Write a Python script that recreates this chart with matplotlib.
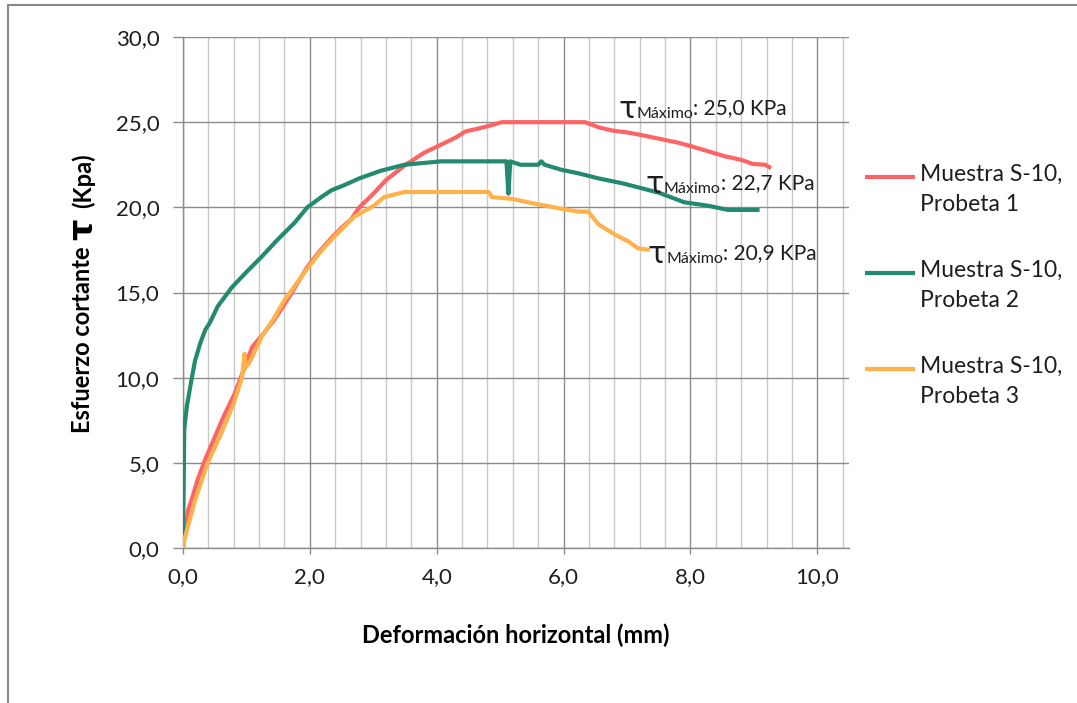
import matplotlib
matplotlib.use("Agg")
import matplotlib.pyplot as plt
from matplotlib.patches import Rectangle
from matplotlib.ticker import FuncFormatter, MultipleLocator
from matplotlib.legend_handler import HandlerLine2D

# Ensayo de corte directo, muestra S-10
x_probeta1 = [0, 0.03, 0.08, 0.15, 0.23, 0.35, 0.5, 0.65, 0.82, 0.95, 1.09, 1.25, 1.44,
              1.65, 1.96, 2.15, 2.34, 2.5, 2.65, 2.78, 3.0, 3.2, 3.51, 3.8, 4.08, 4.3,
              4.45, 4.74, 5.03, 5.5, 6.0, 6.34, 6.55, 6.78, 7.0, 7.22, 7.54, 7.8, 8.0,
              8.27, 8.54, 8.79, 8.98, 9.18, 9.27]
y_probeta1 = [0, 0.8, 2.2, 3.0, 4.0, 5.2, 6.5, 7.8, 9.1, 10.4, 11.8, 12.5, 13.4,
              14.6, 16.5, 17.4, 18.2, 18.8, 19.3, 20.0, 20.8, 21.6, 22.5, 23.2, 23.7, 24.1,
              24.45, 24.7, 25.0, 25.0, 25.0, 25.0, 24.7, 24.5, 24.4, 24.25, 24.0, 23.8, 23.6,
              23.3, 23.0, 22.8, 22.55, 22.5, 22.3]

x_probeta2 = [0, 0.02, 0.06, 0.12, 0.19, 0.27, 0.35, 0.42, 0.55, 0.77, 1.0, 1.24, 1.49,
              1.76, 1.96, 2.18, 2.34, 2.54, 2.78, 3.12, 3.49, 4.07, 4.6, 5.1, 5.13, 5.16,
              5.32, 5.6, 5.65, 5.7, 5.97, 6.23, 6.55, 6.94, 7.51, 7.9, 8.27, 8.59, 9.09]
y_probeta2 = [0, 7.0, 8.3, 9.6, 11.0, 12.0, 12.8, 13.2, 14.2, 15.3, 16.2, 17.1, 18.1,
              19.1, 20.0, 20.6, 21.0, 21.3, 21.7, 22.15, 22.5, 22.7, 22.7, 22.7, 20.8, 22.7,
              22.5, 22.5, 22.7, 22.5, 22.2, 22.0, 21.7, 21.4, 20.85, 20.3, 20.1, 19.85, 19.85]

x_probeta3 = [0, 0.03, 0.19, 0.39, 0.6, 0.8, 0.93, 0.97, 0.99, 1.05, 1.24, 1.42, 1.6,
              1.96, 2.17, 2.39, 2.7, 3.01, 3.17, 3.49, 4.0, 4.5, 4.82, 4.87, 5.18, 5.5,
              5.92, 6.23, 6.39, 6.55, 6.81, 7.02, 7.17, 7.36]
y_probeta3 = [0, 0.6, 2.8, 5.0, 6.7, 8.5, 10.0, 11.4, 10.6, 10.9, 12.4, 13.4, 14.55,
              16.4, 17.4, 18.3, 19.45, 20.1, 20.6, 20.9, 20.9, 20.9, 20.9, 20.6, 20.5, 20.25,
              19.95, 19.75, 19.75, 19.0, 18.4, 18.0, 17.6, 17.5]

series_labels = ["Muestra S-10,\nProbeta 1", "Muestra S-10,\nProbeta 2", "Muestra S-10,\nProbeta 3"]
series_colors = ["#FF6464", "#23896F", "#FDB24C"]
# where each "τ Máximo" label sits (x, baseline y), in data units
label_anchor = [(6.86, 25.25), (7.29, 20.85), (7.33, 16.73)]

FONT = ["Lato", "DejaVu Sans"]
plt.rcParams["font.family"] = FONT
GRID_DARK = "#8C8C8C"
GRID_LIGHT = "#C9C9C9"
TEXT = "#1E1E1E"


class FirstLineHandler(HandlerLine2D):
    """Legend line drawn level with the first row of a two-row label."""

    def __init__(self, shift, **kw):
        super().__init__(**kw)
        self.shift = shift

    def create_artists(self, legend, orig_handle, xdescent, ydescent, width, height,
                       fontsize, trans):
        return super().create_artists(legend, orig_handle, xdescent,
                                      ydescent - self.shift * fontsize, width, height,
                                      fontsize, trans)


W, H = 1077, 703
fig = plt.figure(figsize=(W / 100, H / 100), dpi=100)
ax = fig.add_axes([183 / W, 1 - 548 / H, (849 - 183) / W, (548 - 37) / H])

# chart-area border (top and left edges visible)
fig.patches.append(Rectangle((8 / W, -0.2), 1.2, 1.2 - 5 / H, transform=fig.transFigure,
                             fill=False, edgecolor="#8A8A8A", linewidth=1.5))

xs = [x_probeta1, x_probeta2, x_probeta3]
ys = [y_probeta1, y_probeta2, y_probeta3]
lines = []
for x, y, c, lab in zip(xs, ys, series_colors, series_labels):
    ln, = ax.plot(x, y, color=c, linewidth=3.0, label=lab, solid_joinstyle="round",
                  solid_capstyle="butt", zorder=3)
    lines.append(ln)

ax.set_xlim(0, 10.5)
ax.set_ylim(0, 30)
ax.xaxis.set_major_locator(MultipleLocator(2))
ax.xaxis.set_minor_locator(MultipleLocator(0.4))
ax.yaxis.set_major_locator(MultipleLocator(5))
fmt = FuncFormatter(lambda v, p: f"{v:.1f}".replace(".", ","))
ax.xaxis.set_major_formatter(fmt)
ax.yaxis.set_major_formatter(fmt)

ax.grid(True, which="major", axis="both", color=GRID_DARK, linewidth=1.0, zorder=0)
ax.grid(True, which="minor", axis="x", color=GRID_LIGHT, linewidth=1.0, zorder=0)
ax.set_axisbelow(True)

for side in ("top", "right"):
    ax.spines[side].set_visible(False)
for side in ("left", "bottom"):
    ax.spines[side].set_color(GRID_DARK)
    ax.spines[side].set_linewidth(1.0)

ax.tick_params(axis="y", which="major", direction="out", length=7, width=1.0,
               color=GRID_DARK, pad=10, labelsize=16, labelcolor=TEXT)
ax.tick_params(axis="x", which="major", direction="out", length=4, width=1.0,
               color=GRID_DARK, pad=10, labelsize=16, labelcolor=TEXT)
ax.tick_params(axis="x", which="minor", length=0)

ax.set_xlabel("Deformación horizontal (mm)", fontsize=17, fontweight="bold", va="center",
              color="#000000")
ax.xaxis.set_label_coords(0.5, -(635 - 548) / 511)

# y label: text, an enlarged tau, then the unit, stacked upward
ylab = ax.set_ylabel("Esfuerzo cortante", fontsize=17, fontweight="bold", va="center",
                     color="#000000")
ax.yaxis.set_label_coords((83 - 183) / 666, (548 - 340) / 511)
tau_y = ax.annotate("τ", xy=(0.5, 1), xycoords=ylab, xytext=(0, 7),
                    textcoords="offset pixels", rotation=90, rotation_mode="anchor",
                    ha="left", va="center", fontsize=24, fontweight="bold",
                    family=["DejaVu Sans"], color="#000000")
ax.annotate("(Kpa)", xy=(0.5, 1), xycoords=tau_y, xytext=(0, 10),
            textcoords="offset pixels", rotation=90, rotation_mode="anchor",
            ha="left", va="center", fontsize=17, fontweight="bold", color="#000000")

# peak-stress labels
for y, (lx, ly) in zip(ys, label_anchor):
    peak = max(y)
    t = ax.text(lx, ly, "τ", fontsize=22, ha="left", va="baseline", color=TEXT,
                family=["DejaVu Sans"])
    s = ax.annotate("Máximo", xy=(1, ly), xycoords=(t, "data"), ha="left",
                    va="baseline", fontsize=11.5, color=TEXT)
    ax.annotate(f": {peak:.1f} KPa".replace(".", ","), xy=(1, ly), xycoords=(s, "data"),
                xytext=(0, 4), textcoords="offset pixels", ha="left", va="baseline",
                fontsize=15, color=TEXT)

leg = fig.legend(handles=lines, loc="upper left", bbox_to_anchor=(844 / W, 1 - 143 / H),
                 frameon=False, fontsize=16.5, handlelength=2.2, handletextpad=0.22,
                 labelspacing=1.95, labelcolor=TEXT,
                 handler_map={ln: FirstLineHandler(1.1) for ln in lines})
for txt in leg.get_texts():
    txt.set_linespacing(1.55)

fig.savefig("out.png", dpi=100)
